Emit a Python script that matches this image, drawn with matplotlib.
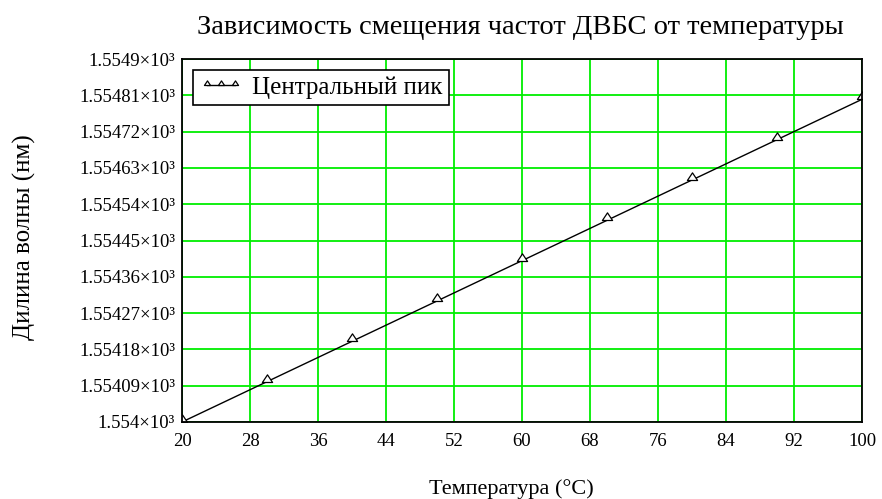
import numpy as np
import matplotlib
matplotlib.use("Agg")
import matplotlib.pyplot as plt
from matplotlib.path import Path

# temperature (°C) and wavelength of the central peak (nm)
temp = [20, 30, 40, 50, 60, 70, 80, 90, 100]
wavelength = [1554.00, 1554.10, 1554.20, 1554.30, 1554.40, 1554.50, 1554.60, 1554.70, 1554.80]

x_ticks = [20, 28, 36, 44, 52, 60, 68, 76, 84, 92, 100]
y_ticks = [1554.00, 1554.09, 1554.18, 1554.27, 1554.36, 1554.45,
           1554.54, 1554.63, 1554.72, 1554.81, 1554.90]
y_labels = ["1.554", "1.55409", "1.55418", "1.55427", "1.55436", "1.55445",
            "1.55454", "1.55463", "1.55472", "1.55481", "1.5549"]

plt.rcParams['font.family'] = ['Liberation Serif', 'DejaVu Serif']

# triangle sitting on the data point (base at the point)
tri = Path([(-1, 0), (1, 0), (0, 1.5), (-1, 0)],
           [Path.MOVETO, Path.LINETO, Path.LINETO, Path.CLOSEPOLY])

fig = plt.figure(figsize=(8.82, 4.99), dpi=100)
ax = fig.add_axes([182 / 882, 1 - 422 / 499, 680 / 882, 363 / 499])

ax.plot(temp, wavelength, color='black', lw=1.0, marker=tri, markersize=11,
        markerfacecolor='white', markeredgecolor='black', markeredgewidth=0.9,
        label='Центральный пик')

ax.set_xlim(20, 100)
ax.set_ylim(1554.0, 1554.9)
ax.set_xticks(x_ticks)
ax.set_yticks(y_ticks)
ax.set_yticklabels([s + "×10³" for s in y_labels])
ax.tick_params(length=0, labelsize=13.5, colors='black')
ax.tick_params(axis='x', pad=8)
ax.tick_params(axis='y', pad=5)
ax.grid(True, color='#00ee00', lw=1.3)
ax.set_axisbelow(True)
for s in ax.spines.values():
    s.set_linewidth(1.3)
    s.set_color('black')

fig.text(520 / 882, 1 - 27 / 499, 'Зависимость смещения частот ДВБС от температуры',
         fontsize=20.5, ha='center', va='center')
ax.set_xlabel('Температура (°C)', fontsize=16)
ax.xaxis.set_label_coords(0.485, -0.157)
ax.set_ylabel('Дилина волны (нм)', fontsize=18)
ax.yaxis.set_label_coords(-0.215, 0.51)

leg = ax.legend(loc='upper left', numpoints=3, fontsize=18, fancybox=False,
                framealpha=1, edgecolor='black', handlelength=1.7,
                borderaxespad=0.45, borderpad=0.25, handletextpad=0.4,
                markerscale=0.6)
leg.get_frame().set_linewidth(1.2)

fig.savefig('out.png', dpi=100)
